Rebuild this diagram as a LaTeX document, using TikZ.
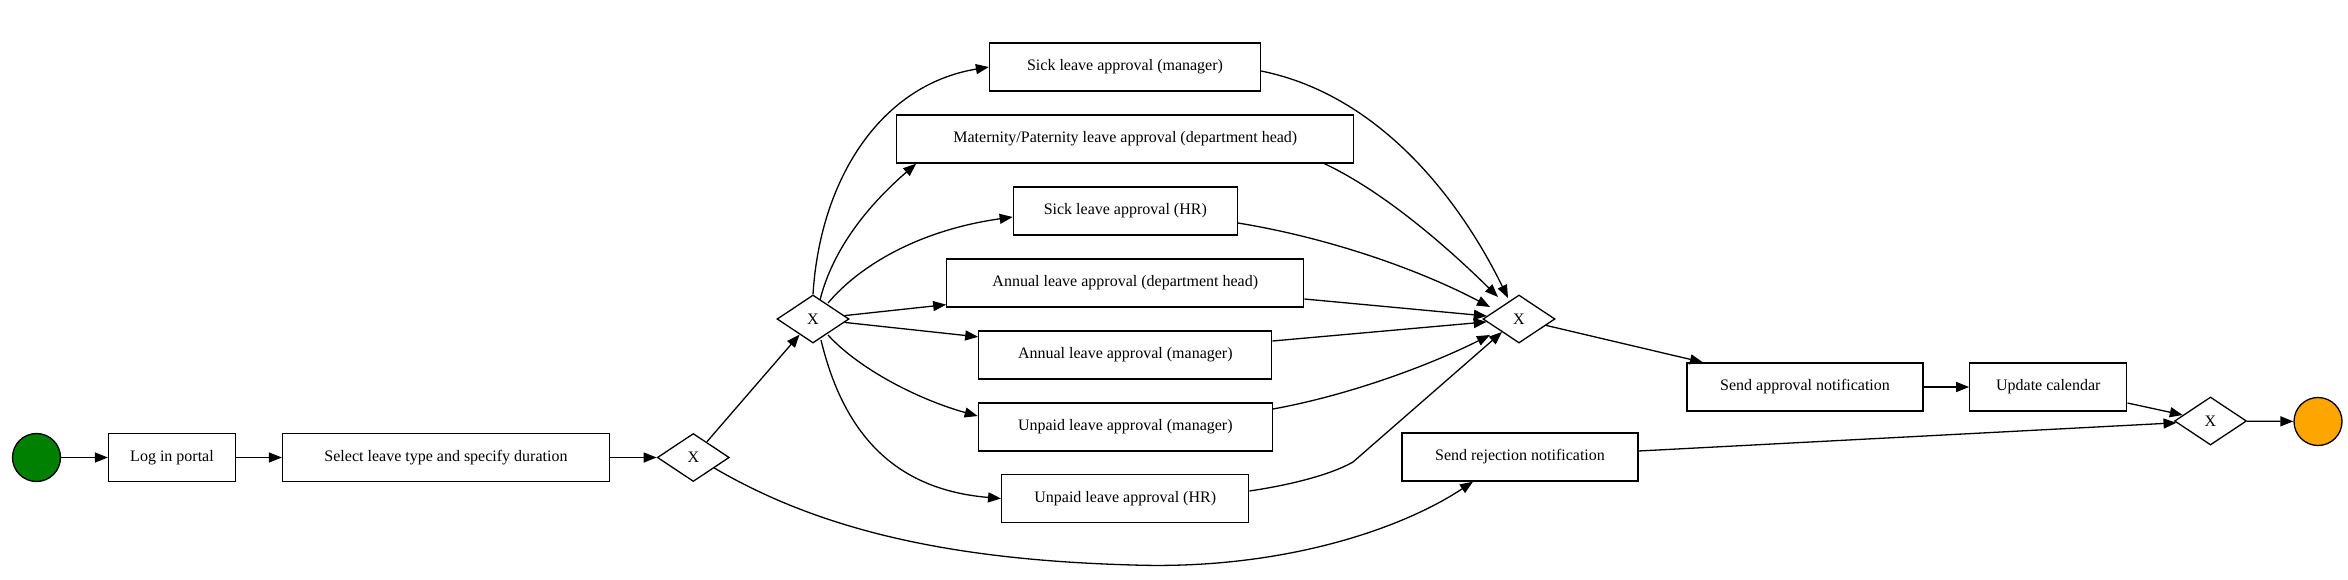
\documentclass[tikz,border=0pt]{standalone}
\usepackage{fontspec}
\setmainfont{Liberation Serif}
\usetikzlibrary{shapes.geometric,arrows.meta,calc}
\definecolor{startgreen}{RGB}{0,128,0}
\definecolor{endorange}{RGB}{255,165,0}
\begin{document}
\begin{tikzpicture}[x=1pt,y=-1pt,
  every node/.style={font=\fontsize{16}{19}\selectfont},
  task/.style={draw, line width=1.3pt, rectangle, minimum height=48pt, inner sep=0pt, fill=white},
  gate/.style={draw, line width=1.3pt, diamond, aspect=1.5, minimum width=72pt, minimum height=48pt, inner sep=0pt, fill=white},
  ev/.style={draw, line width=1.3pt, circle, minimum size=48pt, inner sep=0pt},
  flow/.style={line width=1.3pt, -{Triangle[length=13pt,width=10pt]}}
]
\useasboundingbox (0,0) rectangle (2348,579);

\node[ev, fill=startgreen] (start) at (36.5,457.5) {};
\node[task, minimum width=127pt] (login) at (172,457.5) {Log in portal};
\node[task, minimum width=327pt] (select) at (446,457.5) {Select leave type and specify duration};
\node[gate] (g1) at (693.3,457.5) {X};
\node[gate] (g2) at (813,319) {X};
\node[task, minimum width=271pt] (sm) at (1125,67) {Sick leave approval (manager)};
\node[task, minimum width=457pt] (mat) at (1125.3,139) {Maternity/Paternity leave approval (department head)};
\node[task, minimum width=224pt] (shr) at (1125.3,211) {Sick leave approval (HR)};
\node[task, minimum width=357pt] (ad) at (1125.3,283) {Annual leave approval (department head)};
\node[task, minimum width=293pt] (am) at (1125.3,355) {Annual leave approval (manager)};
\node[task, minimum width=294pt] (um) at (1125.3,427) {Unpaid leave approval (manager)};
\node[task, minimum width=247pt] (uhr) at (1125.2,498.5) {Unpaid leave approval (HR)};
\node[gate] (mg) at (1519,319) {X};
\node[task, minimum width=236pt] (sa) at (1805,387) {Send approval notification};
\node[task, minimum width=157pt] (uc) at (2048.3,387) {Update calendar};
\node[task, minimum width=236pt] (rej) at (1520,457) {Send rejection notification};
\node[gate] (eg) at (2210.5,421) {X};
\node[ev, fill=endorange] (end) at (2318,421.5) {};

\draw[flow] (start) -- (login);
\draw[flow] (login) -- (select);
\draw[flow] (select) -- (g1);
\draw[flow] (g1) -- (g2);
\draw[flow] ($(g1)+(21,10.5)$) .. controls (820,530) and (950,560) .. (1133,565) .. controls (1280,570) and (1400,530) .. ($(rej.south)+(-47,0)$);

\draw[flow] (g2.north) .. controls (820,180) and (880,85) .. (sm.west);
\draw[flow] ($(g2)+(7,-19)$) .. controls (835,240) and (880,195) .. ($(mat.south west)+(20,0)$);
\draw[flow] ($(g2)+(15,-16)$) .. controls (860,265) and (920,230) .. ($(shr.west)+(0,6)$);
\draw[flow] (g2) -- ($(ad.south west)+(0,-3)$);
\draw[flow] (g2) -- ($(am.north west)+(0,6.5)$);
\draw[flow] ($(g2)+(15,16)$) .. controls (860,370) and (920,400) .. ($(um.west)+(0,-11)$);
\draw[flow] ($(g2)+(8,21)$) .. controls (845,440) and (900,490) .. (uhr.west);

\draw[flow] ($(sm.east)+(0,4)$) .. controls (1380,95) and (1460,200) .. ($(mg)+(-11,-21)$);
\draw[flow] ($(mat.south east)+(-30,0)$) .. controls (1380,190) and (1440,240) .. ($(mg)+(-21,-22)$);
\draw[flow] ($(shr.east)+(0,12)$) .. controls (1330,238) and (1420,270) .. ($(mg)+(-29,-12)$);
\draw[flow] ($(ad.east)+(0,16)$) -- (mg);
\draw[flow] ($(am.east)+(0,-14)$) -- (mg);
\draw[flow] ($(um.east)+(0,-18)$) .. controls (1350,395) and (1430,365) .. ($(mg)+(-29,16)$);
\draw[flow] ($(uhr.east)+(0,-7.5)$) .. controls (1290,485) and (1330,475) .. (1353,462) -- ($(mg)+(-17,13)$);

\draw[flow] (mg) -- ($(sa.north west)+(16.6,0)$);
\draw[flow] (sa) -- (uc);
\draw[flow] ($(uc.east)+(0,16)$) -- (eg);
\draw[flow] ($(rej.east)+(0,-6)$) -- (eg);
\draw[flow] (eg) -- (end);
\end{tikzpicture}
\end{document}
